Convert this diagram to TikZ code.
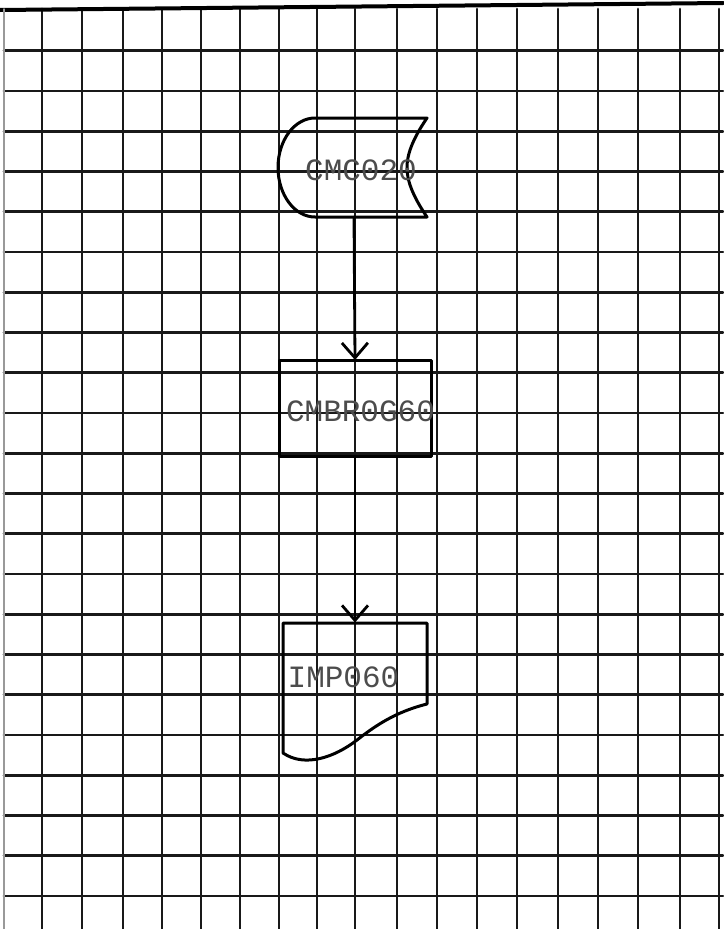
\documentclass[tikz,border=0pt]{standalone}
\usepackage{fontspec}
\setmonofont{Liberation Mono}
\usetikzlibrary{arrows.meta,positioning}
\tikzset{
  every picture/.append style={line cap=round,line join=round},
  sheet grid/.style={black!90,line width=2.7pt},
  sheet edge/.style={black!40,line width=1.4pt},
  chart shape/.style={line width=3pt},
  chart flow/.style={line width=2.8pt,-{Straight Barb[length=15pt,width=26pt]}},
  chart label/.style={font=\ttfamily\fontsize{31}{31}\selectfont,text=black!70,inner sep=0pt},
  chart anchor/.style={inner sep=0pt,outer sep=0pt}
}

\begin{document}
\begin{tikzpicture}[x=1pt,y=-1pt]
  \useasboundingbox (0,0) rectangle (723,929);
  % squared paper
  \foreach \gx in {42,82,123,162,201,240,279,317,355,397,437,477,517,558,598,638,680,719}
    \draw[sheet grid] (\gx,9) -- (\gx,929);
  \foreach \k in {0,...,21}
    \draw[sheet grid] (4,50.7+40.25*\k) -- (723,50.7+40.25*\k);
  \draw[line width=4pt] (0,10) -- (723,3);
  \draw[sheet edge] (4,9) -- (4,929);

  % chart boxes
  \node[chart anchor,minimum width=150pt,minimum height=99pt] (cmc) at (354,167.5) {};
  \node[chart anchor,chart shape,draw,minimum width=152pt,minimum height=96pt] (cmbr) at (355,408) {};
  \node[chart anchor,minimum width=144pt,minimum height=131pt] (imp) at (355,688) {};

  \draw[chart shape] (315,118) -- (427,118)
    .. controls (412,140) and (407,155) .. (407,167.5)
    .. controls (407,180) and (412,195) .. (427,217) -- (315,217)
    .. controls (294.6,217) and (278,194.7) .. (278,167.5)
    .. controls (278,140.3) and (294.6,118) .. cycle;
  \draw[chart shape] (283,623) -- (427,623) -- (427,704)
    .. controls (395,712) and (375,726) .. (357,740)
    .. controls (335,757) and (305,768) .. (283,753) -- cycle;

  \node[chart label] (cmctext) at (361,170) {CMC020};
  \node[chart label] (cmbrtext) at (360.5,411) {CMBR0G60};
  \node[chart label] (imptext) at (343.5,677) {IMP060};

  % flow
  \draw[chart flow] (cmc.south) -- (cmbr.north);
  \draw[chart flow] (cmbr.south) -- (imp.north);
\end{tikzpicture}
\end{document}
